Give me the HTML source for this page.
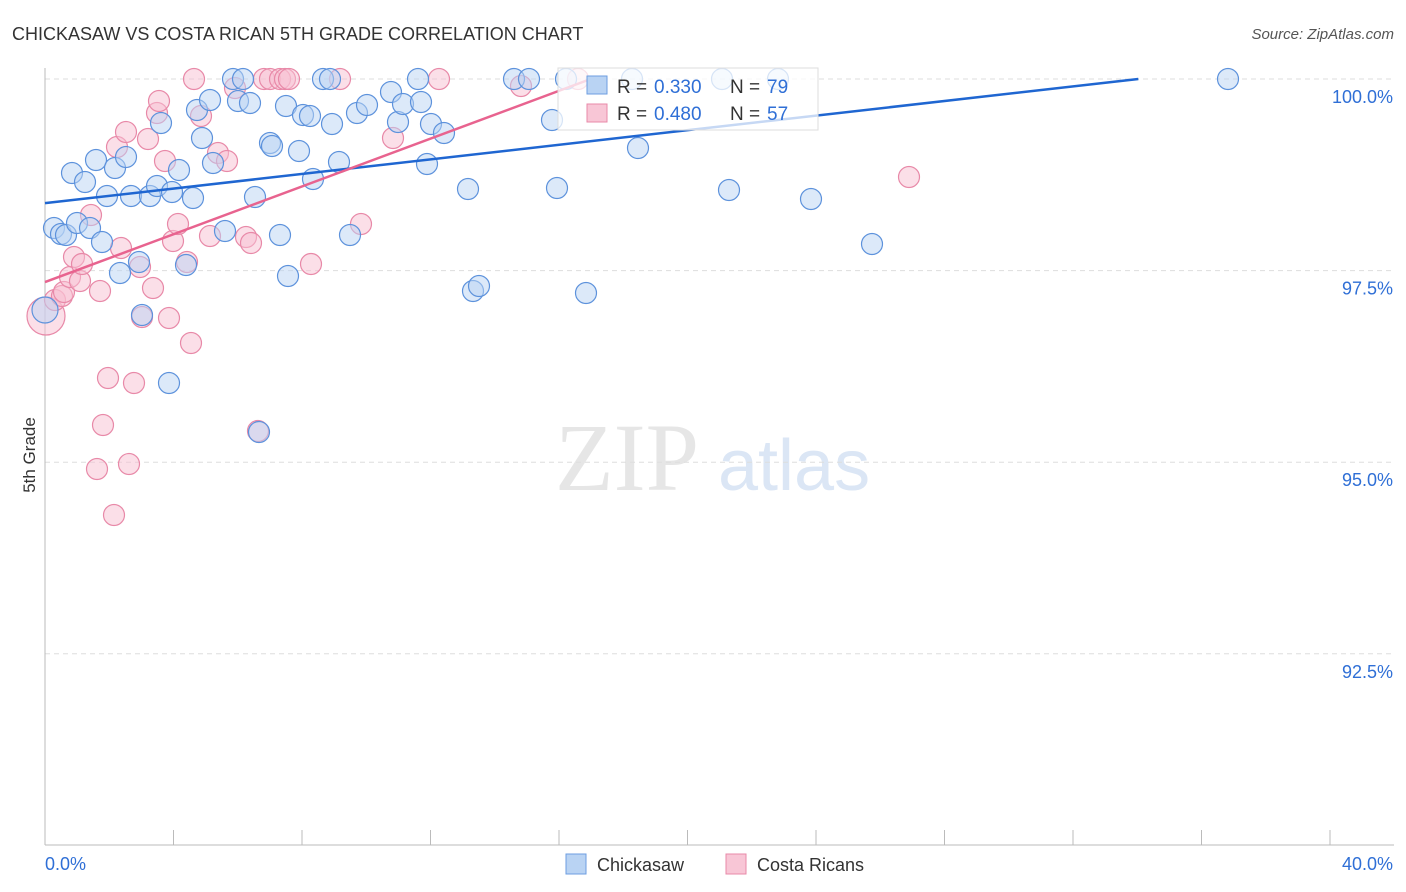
<!DOCTYPE html>
<html><head><meta charset="utf-8"><style>
body{margin:0;background:#fff;font-family:"Liberation Sans",sans-serif}
svg{display:block}
</style></head><body>
<svg id="c" width="1406" height="892">
<text x="12" y="40" font-size="18" fill="#333">CHICKASAW VS COSTA RICAN 5TH GRADE CORRELATION CHART</text>
<text x="1394" y="39" font-size="15" fill="#555" font-style="italic" text-anchor="end">Source: ZipAtlas.com</text>
<text x="35" y="455" font-size="17" fill="#333" transform="rotate(-90 35 455)" text-anchor="middle">5th Grade</text>
<g><text x="555" y="490" font-size="96" fill="#e6e6e6" font-family="Liberation Serif,serif">ZIP</text><text x="718" y="490" font-size="72" fill="#dbe6f5">atlas</text></g>
<g id="grid"></g><g id="pts"></g><g id="lines"></g>
<g>
<rect x="558" y="68" width="260" height="62" fill="#fff" fill-opacity="0.75" stroke="#ddd"/>
<rect x="587" y="76" width="20" height="18" fill="#b9d3f3" stroke="#6d9ee0"/>
<text x="617" y="93" font-size="19" fill="#333">R =</text><text x="654" y="93" font-size="19" fill="#2f6fd6">0.330</text>
<text x="730" y="93" font-size="19" fill="#333">N =</text><text x="767" y="93" font-size="19" fill="#2f6fd6">79</text>
<rect x="587" y="104" width="20" height="18" fill="#f8c6d6" stroke="#e889a8"/>
<text x="617" y="120" font-size="19" fill="#333">R =</text><text x="654" y="120" font-size="19" fill="#2f6fd6">0.480</text>
<text x="730" y="120" font-size="19" fill="#333">N =</text><text x="767" y="120" font-size="19" fill="#2f6fd6">57</text>
</g>
<g>
<rect x="566" y="854" width="20" height="20" fill="#b9d3f3" stroke="#6d9ee0"/><text x="597" y="871" font-size="18" fill="#333">Chickasaw</text>
<rect x="726" y="854" width="20" height="20" fill="#f8c6d6" stroke="#e889a8"/><text x="757" y="871" font-size="18" fill="#333">Costa Ricans</text>
</g>
</svg>
<script>
const blueXpx=[54,61,66,72,77,85,90,96,102,107,115,120,126,131,139,142,150,157,161,169,172,179,186,193,197,202,210,213,225,233,238,243,250,255,259,270,272,280,286,288,299,303,310,313,323,330,332,339,350,357,367,391,398,403,418,421,427,431,444,468,473,479,514,529,552,557,566,586,632,638,722,729,778,811,872,1228,45];
const blueYpx=[228,234,235,173,223,182,228,160,242,196,168,273,157,196,262,315,196,186,123,383,192,170,265,198,110,138,100,163,231,79,101,79,103,197,432,143,146,235,106,276,151,115,116,179,79,79,124,162,235,113,105,92,122,104,79,102,164,124,133,189,291,286,79,79,120,188,79,293,79,148,79,190,79,199,244,79,310];
const pinkXpx=[46,55,62,64,70,74,80,82,91,97,100,103,108,114,117,121,126,129,134,140,142,148,153,157,159,165,169,173,178,187,191,194,201,210,218,227,235,246,251,258,264,270,280,285,289,311,340,361,393,439,521,578,909];
const pinkYpx=[316,300,296,292,277,257,281,264,215,469,291,425,378,515,147,248,132,464,383,267,317,139,288,113,101,161,318,241,224,262,343,79,116,236,153,161,88,237,243,431,79,79,79,79,79,264,79,224,138,79,86,79,177];
const blueX=blueXpx.map(p=>(p-45)/1285*40), blueY=blueYpx.map(p=>100-(p-79)/191.6*2.5);
const pinkX=pinkXpx.map(p=>(p-45)/1285*40), pinkY=pinkYpx.map(p=>100-(p-79)/191.6*2.5);
const yTicks=[100,97.5,95,92.5];
const yTickLabels=["100.0%","97.5%","95.0%","92.5%"];
const blueTrend=[98.38,0.0476], pinkTrend=[97.35,0.156];
const NS="http://www.w3.org/2000/svg";
const X=v=>45+v/40*1285, Y=v=>79+(100-v)/2.5*191.6;
function mk(t,a,p){const e=document.createElementNS(NS,t);for(const k in a)e.setAttribute(k,a[k]);p.appendChild(e);return e;}
const g=document.getElementById('grid');
yTicks.forEach((t,i)=>{
 const l=mk('line',{x1:45,x2:1394,y1:Y(t),y2:Y(t),stroke:'#ddd','stroke-dasharray':'5,4'},g);
 
 
 const tx=mk('text',{x:1393,y:Y(t)+24,'font-size':18,fill:'#2f6fd6','text-anchor':'end'},g);tx.textContent=yTickLabels[i];
 
 
});
mk('line',{x1:45,x2:45,y1:68,y2:845,stroke:'#bbb'},g);
mk('line',{x1:45,x2:1394,y1:845,y2:845,stroke:'#bbb'},g);
for(let i=0;i<=10;i++){const t=mk('line',{x1:X(i*4),x2:X(i*4),y1:830,y2:845,stroke:'#bbb'},g);
 
 }
const xl0=mk('text',{x:45,y:870,'font-size':18,fill:'#2f6fd6'},g);xl0.textContent='0.0%';


const xl1=mk('text',{x:1393,y:870,'font-size':18,fill:'#2f6fd6','text-anchor':'end'},g);xl1.textContent='40.0%';


const P=document.getElementById('pts');
function pts(xs,ys,fill,stroke,name,bigR){xs.forEach((x,i)=>{const big=(Math.abs(x)<0.1&&ys[i]<97.2);
 const c=mk('circle',{cx:X(x),cy:Y(ys[i]),r:big?bigR:10.5,fill:fill,'fill-opacity':0.5,stroke:stroke,'stroke-width':1.2},P);
 
 });}
pts(pinkX,pinkY,'#f8c0d2','#e889a8','costa-rican-point',19);
pts(blueX,blueY,'#b9d3f3','#5d92dc','chickasaw-point',13);
const L=document.getElementById('lines');
function trend(tr,col,name){const xe=Math.min(40,(100-tr[0])/tr[1]);
 const l=mk('line',{x1:X(0),y1:Y(tr[0]),x2:X(xe),y2:Y(tr[0]+tr[1]*xe),stroke:col,'stroke-width':2.5},L);
 
 }
trend(blueTrend,'#1f66d1','chickasaw-trend-line');
trend(pinkTrend,'#e8638f','costa-rican-trend-line');
</script>
</body></html>
